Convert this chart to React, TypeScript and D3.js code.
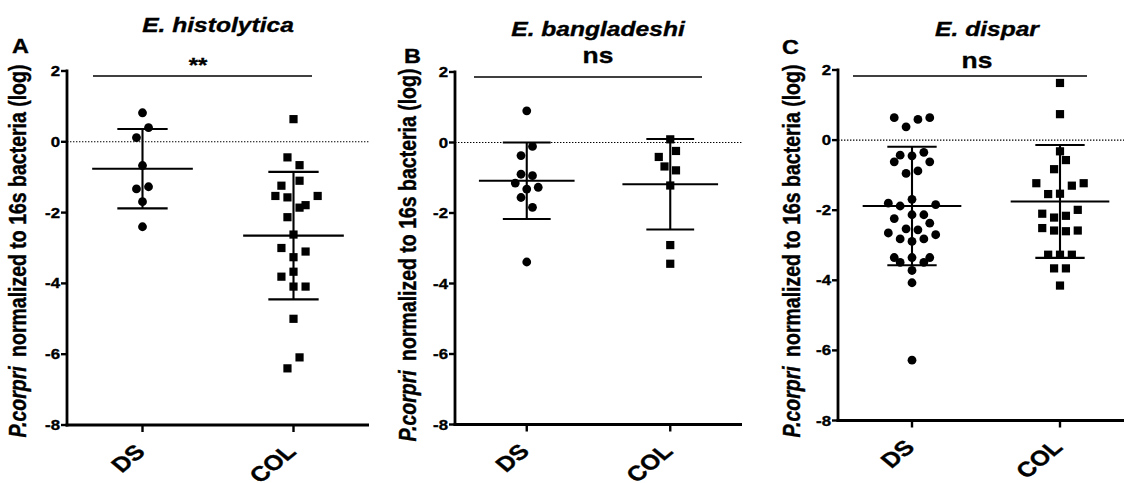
import React from 'react';
import * as d3 from 'd3';

const W = 1124;
const H = 483;
const SX = 1.2; // source figure is stretched horizontally, text too
const FONT = '"Liberation Sans", Arial, Helvetica, sans-serif';

const categories = ['DS', 'COL'];
const yTicks = [2, 0, -2, -4, -6, -8];
const titles = ['E. histolytica', 'E. bangladeshi', 'E. dispar'];
const letters = ['A', 'B', 'C'];
const sigLabels = ['**', 'ns', 'ns'];

// [log value, beeswarm lane]
const histolyticaDS = [
  [0.82, 0], [0.4, 1], [0.12, -1], [-0.67, 0], [-1.33, -1], [-1.27, 1], [-1.69, 0], [-2.4, 0],
];
const histolyticaCOL = [
  [0.64, 0], [-0.44, -1], [-0.66, 1], [-1.1, 1], [-1.24, -2], [-1.53, -3], [-1.57, -1], [-1.53, 4],
  [-1.86, 1], [-1.79, 2], [-2.13, -1], [-2.62, 0], [-3.0, -2], [-3.1, 2], [-3.26, 0], [-3.67, 0],
  [-3.81, -2], [-4.09, 0], [-4.09, 2], [-5.0, 0], [-6.4, -1], [-6.09, 1],
];
const bangladeshiDS = [
  [0.9, 0], [-0.11, 1], [-0.37, -1], [-0.9, -1], [-0.94, 1], [-1.15, -2], [-1.32, 0], [-1.27, 2],
  [-1.56, -1], [-1.84, 1], [-3.39, 0],
];
const bangladeshiCOL = [
  [0.09, 0], [-0.24, 1], [-0.41, -2], [-0.68, -1], [-0.79, 1], [-1.22, 0], [-2.91, 0], [-3.44, 0],
];
const disparDS = [
  [0.64, -3], [0.38, -1], [0.59, 1], [0.64, 3], [-0.43, -2], [-0.45, 0], [-0.35, 2], [-0.62, -3],
  [-0.62, 3], [-0.95, -1], [-0.88, 1], [-1.69, 0], [-1.8, -4], [-1.88, -2], [-1.84, 4], [-2.13, 0],
  [-2.13, 2], [-2.24, -3], [-2.37, 3], [-2.53, -1], [-2.56, 1], [-2.65, -4], [-2.7, 4], [-2.82, -2],
  [-2.82, 2], [-2.89, 0], [-3.35, -3], [-3.35, 0], [-3.35, 3], [-3.49, -2], [-3.49, 2], [-3.72, 0],
  [-4.07, 0], [-6.28, 0],
];
const disparCOL = [
  [1.63, 0], [0.74, 0], [-0.32, 0], [-0.57, 1], [-0.83, -1], [-1.23, -4], [-1.3, 2], [-1.23, 4],
  [-1.54, -2], [-1.53, 0], [-1.99, 3], [-2.1, -3], [-2.21, -1], [-2.16, 1], [-2.51, -3], [-2.58, -1],
  [-2.6, 1], [-2.58, 3], [-3.27, -2], [-3.27, 0], [-3.27, 2], [-3.66, -1], [-3.66, 1], [-4.15, 0],
];

// [mean, sd] per group as plotted
const histolyticaStats = [[-0.76, 1.12], [-2.65, 1.8]];
const bangladeshiStats = [[-1.085, 1.085], [-1.185, 1.285]];
const disparStats = [[-1.88, 1.69], [-1.75, 1.61]];

const groupsByPanel = [
  [histolyticaDS, histolyticaCOL],
  [bangladeshiDS, bangladeshiCOL],
  [disparDS, disparCOL],
];
const statsByPanel = [histolyticaStats, bangladeshiStats, disparStats];

// page layout of each panel
const layout = [
  { x0: 67, x1: 369, yTop: 71, yBot: 425, tx: 218, ty: 32, lx: 12, ly: 53, ax: 26, ay: 251, s1: 93, s2: 312, sy: 76, stx: 198, sty: 72 },
  { x0: 455, x1: 742, yTop: 72, yBot: 424.5, tx: 598, ty: 36, lx: 404, ly: 63, ax: 416, ay: 255, s1: 474, s2: 702, sy: 77, stx: 598, sty: 63 },
  { x0: 838, x1: 1134, yTop: 70, yBot: 420.5, tx: 987, ty: 36, lx: 782, ly: 54, ax: 800, ay: 251, s1: 853, s2: 1087, sy: 76, stx: 977, sty: 68 },
];

function Txt({ x, y, rot = 0, children, ...rest }: any) {
  return (
    <g transform={`translate(${x},${y}) scale(${SX},1)${rot ? ` rotate(${rot})` : ''}`}>
      <text fontFamily={FONT} fontWeight="bold" stroke="#000" strokeWidth={0.35} {...rest}>{children}</text>
    </g>
  );
}

function Panel({ i }: { i: number }) {
  const p = layout[i];
  const x = d3.scalePoint<string>().domain(categories).range([p.x0, p.x1]).padding(0.5);
  const y = d3.scaleLinear().domain([-8, 2]).range([p.yBot, p.yTop]);
  const step = x.step();
  const lane = step / 25;
  const groups = groupsByPanel[i];
  const stats = statsByPanel[i];

  return (
    <g>
      <Txt x={p.tx} y={p.ty} fontSize={20.5} fontStyle="italic" textAnchor="middle">{titles[i]}</Txt>
      <Txt x={p.lx} y={p.ly} fontSize={19.5}>{letters[i]}</Txt>
      <Txt x={p.ax} y={p.ay} rot={-90} fontSize={19.5} textAnchor="middle">
        <tspan fontStyle="italic">P.corpri</tspan>
        <tspan dx={4}> normalized to 16s bacteria (log)</tspan>
      </Txt>

      {/* significance bar */}
      <line x1={p.s1} x2={p.s2} y1={p.sy} y2={p.sy} stroke="#000" strokeWidth={1.3} />
      <Txt x={p.stx} y={p.sty} fontSize={i === 0 ? 20 : 22} textAnchor="middle">{sigLabels[i]}</Txt>

      {/* zero reference */}
      <line x1={p.x0} x2={p.x1} y1={y(0)} y2={y(0)} stroke="#000" strokeWidth={1.1} strokeDasharray="1.4 1.6" />

      {/* axes */}
      <line x1={p.x0} x2={p.x0} y1={y(2) - 1.4} y2={p.yBot + 1.4} stroke="#000" strokeWidth={2.8} />
      <line x1={p.x0 - 1.4} x2={p.x1} y1={p.yBot} y2={p.yBot} stroke="#000" strokeWidth={2.8} />
      {yTicks.map((t) => (
        <g key={t}>
          <line x1={p.x0 - 6} x2={p.x0} y1={y(t)} y2={y(t)} stroke="#000" strokeWidth={2.4} />
          <Txt x={p.x0 - 7} y={y(t) + 5} fontSize={14} textAnchor="end">{t}</Txt>
        </g>
      ))}
      {categories.map((c) => (
        <g key={c}>
          <line x1={x(c)} x2={x(c)} y1={p.yBot} y2={p.yBot + 7} stroke="#000" strokeWidth={2.4} />
          <Txt x={(x(c) as number) + 4} y={p.yBot + 28} rot={-45} fontSize={21} textAnchor="end">{c}</Txt>
        </g>
      ))}

      {/* mean and SD */}
      {categories.map((c, gi) => {
        const cx = x(c) as number;
        const [m, sd] = stats[gi];
        return (
          <g key={c} stroke="#000" strokeWidth={2.1}>
            <line x1={cx - step / 3} x2={cx + step / 3} y1={y(m)} y2={y(m)} />
            <line x1={cx} x2={cx} y1={y(m + sd)} y2={y(m - sd)} />
            <line x1={cx - step / 6} x2={cx + step / 6} y1={y(m + sd)} y2={y(m + sd)} />
            <line x1={cx - step / 6} x2={cx + step / 6} y1={y(m - sd)} y2={y(m - sd)} />
          </g>
        );
      })}

      {/* points */}
      {groups[0].map(([v, l], k) => (
        <circle key={k} cx={(x('DS') as number) + l * lane} cy={y(v)} r={4.4} fill="#000" />
      ))}
      {groups[1].map(([v, l], k) => (
        <rect key={k} x={(x('COL') as number) + l * lane - 4.1} y={y(v) - 4.1} width={8.2} height={8.2} fill="#000" />
      ))}
    </g>
  );
}

export default function App() {
  return (
    <svg width={W} height={H} style={{ position: 'absolute', left: 0, top: 0, background: '#fff' }}>
      <rect width={W} height={H} fill="#fff" />
      {layout.map((_, i) => (
        <Panel key={i} i={i} />
      ))}
    </svg>
  );
}
